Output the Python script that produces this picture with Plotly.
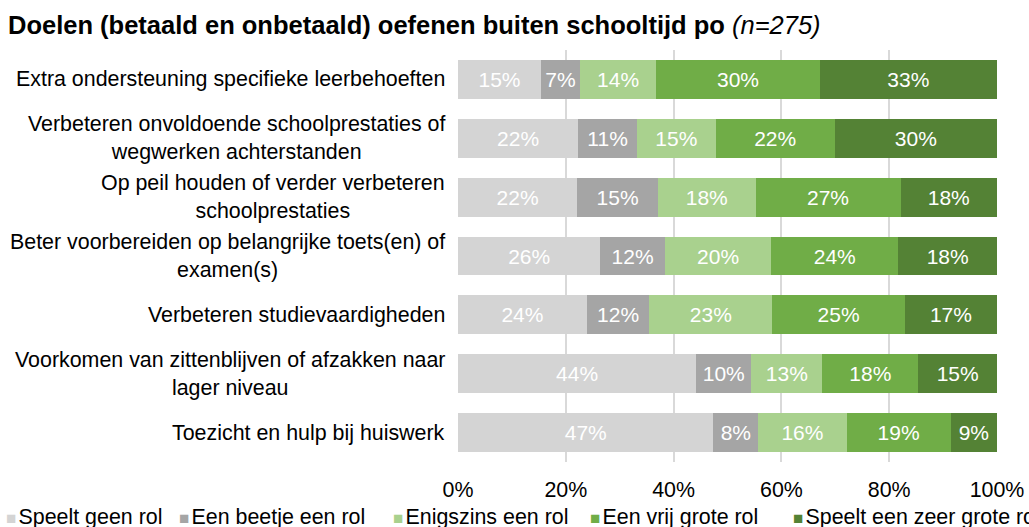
import plotly.graph_objects as go

categories = [
    "Extra ondersteuning specifieke leerbehoeften",
    "Verbeteren onvoldoende schoolprestaties of<br>wegwerken achterstanden",
    "Op peil houden of verder verbeteren<br>schoolprestaties",
    "Beter voorbereiden op belangrijke toets(en) of<br>examen(s)",
    "Verbeteren studievaardigheden",
    "Voorkomen van zittenblijven of afzakken naar<br>lager niveau",
    "Toezicht en hulp bij huiswerk",
]

series_names = [
    "Speelt geen rol",
    "Een beetje een rol",
    "Enigszins een rol",
    "Een vrij grote rol",
    "Speelt een zeer grote rol",
]

speelt_geen_rol = [15.4, 22.3, 22.1, 26.4, 23.9, 44.2, 47.4]
een_beetje = [7.2, 10.9, 15.0, 12.0, 11.6, 10.2, 8.3]
enigszins = [14.2, 14.6, 18.1, 19.7, 22.8, 13.2, 16.4]
vrij_grote = [30.3, 22.1, 26.9, 23.6, 24.6, 17.8, 19.3]
zeer_grote = [32.9, 30.1, 17.9, 18.3, 17.1, 14.6, 8.6]

series_values = [speelt_geen_rol, een_beetje, enigszins, vrij_grote, zeer_grote]
colors = ["#D4D4D4", "#A5A5A5", "#A9D18E", "#70AD47", "#548235"]

x_ticks = [0, 20, 40, 60, 80, 100]
x_tick_labels = [f"{v}%" for v in x_ticks]

FONT = "Liberation Sans, Arial, sans-serif"

fig = go.Figure()
for name, vals, col in zip(series_names, series_values, colors):
    fig.add_trace(go.Bar(
        y=categories, x=vals, name=name, orientation="h",
        marker=dict(color=col, line=dict(width=0)),
        texttemplate="%{x:.0f}%", textposition="inside",
        insidetextanchor="middle", constraintext="none",
        textfont=dict(color="white", size=21, family=FONT),
        hoverinfo="skip",
    ))

# category labels (centered multi-line, right aligned block)
for cat in categories:
    fig.add_annotation(
        x=0, xref="paper", xanchor="right", xshift=-11,
        y=cat, yref="y", yanchor="middle",
        text=cat, align="center", showarrow=False,
        font=dict(size=21.4, family=FONT, color="black"),
    )

# legend built as text items
legend_x = [4, 177, 391, 588, 791]
W, L, R = 1029, 458, 32
plot_w = W - L - R
for name, col, px in zip(series_names, colors, legend_x):
    fig.add_annotation(
        x=(px - L) / plot_w, xref="paper", xanchor="left",
        y=0, yref="paper", yanchor="middle", yshift=-55,
        text=(f"<span style='color:{col};font-size:17px'>■</span>"
              f"<span style='font-size:8px'> </span>{name}"),
        showarrow=False, align="left",
        font=dict(size=21.4, family=FONT, color="black"),
    )

fig.update_layout(
    width=1029, height=527,
    barmode="stack", bargap=0.34,
    showlegend=False,
    plot_bgcolor="white", paper_bgcolor="white",
    margin=dict(l=L, r=R, t=50, b=65, autoexpand=False),
    title=dict(
        text="<b>Doelen (betaald en onbetaald) oefenen buiten schooltijd po</b> <i>(n=275)</i>",
        x=8 / 1029, xanchor="left", xref="container", y=1 - 25 / 527, yanchor="middle",
        yref="container",
        font=dict(size=25.5, family=FONT, color="black"),
    ),
    xaxis=dict(
        range=[0, 100], tickvals=x_ticks, ticktext=x_tick_labels,
        showgrid=True, gridcolor="#D9D9D9", gridwidth=1.5,
        zeroline=False, showline=False,
        tickfont=dict(size=21.4, family=FONT, color="black"),
        ticks="", ticklabelstandoff=13,
    ),
    yaxis=dict(
        categoryorder="array", categoryarray=categories[::-1],
        showticklabels=False, showgrid=False, zeroline=False,
    ),
)

fig.write_html("out.html", post_script="document.body.style.margin='0';",
               config={"displayModeBar": False})
